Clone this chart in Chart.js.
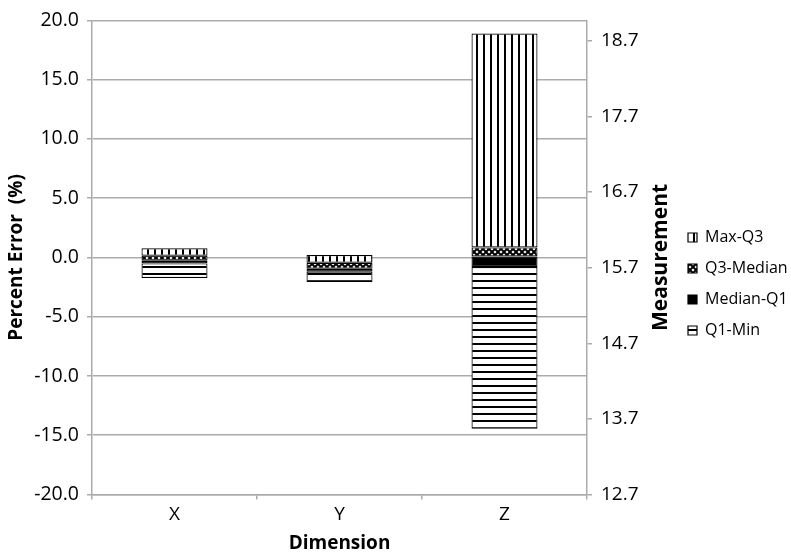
<!DOCTYPE html>
<html>
<head>
<meta charset="UTF-8">
<title>Percent Error by Dimension</title>
<script src="https://cdn.jsdelivr.net/npm/chart.js"></script>
<style>
  html, body { margin: 0; padding: 0; background: #fff; }
  #wrap { width: 791px; height: 555px; }
</style>
</head>
<body>
<div id="wrap"><canvas id="chart" width="791" height="555"></canvas></div>
<script>
  // values (percent error)
  const dimensions = ['X', 'Y', 'Z'];
  const maxVals    = [0.77, 0.20, 18.9];
  const q3Vals     = [0.15, -0.45, 0.85];
  const medianVals = [-0.28, -0.95, 0.08];
  const q1Vals     = [-0.50, -1.20, -0.80];
  const minVals    = [-1.73, -2.07, -14.45];
  const seriesNames = ['Max-Q3', 'Q3-Median', 'Median-Q1', 'Q1-Min'];
  const leftTicks  = [-20, -15, -10, -5, 0, 5, 10, 15, 20];
  const rightTicks = [12.7, 13.7, 14.7, 15.7, 16.7, 17.7, 18.7];

  function makePattern(kind) {
    const c = document.createElement('canvas');
    const g = c.getContext('2d');
    if (kind === 'vert') {
      c.width = 7; c.height = 7;
      g.fillStyle = '#fff'; g.fillRect(0, 0, 7, 7);
      g.fillStyle = '#000'; g.fillRect(0, 0, 2, 7);
    } else if (kind === 'horiz') {
      c.width = 7; c.height = 7;
      g.fillStyle = '#fff'; g.fillRect(0, 0, 7, 7);
      g.fillStyle = '#000'; g.fillRect(0, 0, 7, 2);
    } else {
      c.width = 6; c.height = 6;
      g.fillStyle = '#fff'; g.fillRect(0, 0, 6, 6);
      g.strokeStyle = '#000'; g.lineWidth = 2;
      g.beginPath();
      g.moveTo(0, 0); g.lineTo(6, 6);
      g.moveTo(6, 0); g.lineTo(0, 6);
      g.stroke();
    }
    return g.createPattern(c, 'repeat');
  }

  const fills = [makePattern('vert'), makePattern('cross'), '#000', makePattern('horiz')];
  const ranges = [
    [q3Vals, maxVals],
    [medianVals, q3Vals],
    [q1Vals, medianVals],
    [minVals, q1Vals]
  ];

  Chart.defaults.font.family = "'Open Sans', sans-serif";
  Chart.defaults.color = '#000';

  const gridGray = '#ababab';

  // right axis title reads bottom-to-top like the left one
  const rightTitle = {
    id: 'rightTitle',
    afterDraw(chart) {
      const { ctx, chartArea } = chart;
      ctx.save();
      ctx.translate(661, (chartArea.top + chartArea.bottom) / 2);
      ctx.rotate(-Math.PI / 2);
      ctx.font = "bold 21px 'Open Sans', sans-serif";
      ctx.fillStyle = '#000';
      ctx.textAlign = 'center';
      ctx.textBaseline = 'middle';
      ctx.fillText('Measurement', 0, 0);
      ctx.restore();
    }
  };

  new Chart(document.getElementById('chart'), {
    type: 'bar',
    data: {
      labels: dimensions,
      datasets: seriesNames.map((name, i) => ({
        label: name,
        data: dimensions.map((d, j) => [ranges[i][0][j], ranges[i][1][j]]),
        backgroundColor: fills[i],
        borderColor: '#000',
        borderWidth: 1.2,
        borderSkipped: false,
        barPercentage: 0.4,
        categoryPercentage: 1,
        yAxisID: 'y'
      }))
    },
    options: {
      responsive: false,
      animation: false,
      layout: { padding: { top: 13, left: 5, right: 0, bottom: 0 } },
      plugins: {
        tooltip: { enabled: false },
        legend: {
          position: 'right',
          align: 'center',
          maxWidth: 118,
          labels: { boxWidth: 9, boxHeight: 9, padding: 15, font: { size: 16 }, color: '#000' }
        }
      },
      scales: {
        x: {
          stacked: true,
          grid: { display: true, drawOnChartArea: false, offset: true, tickLength: 5, color: gridGray, lineWidth: 1.5 },
          border: { color: gridGray, width: 1.5 },
          ticks: { font: { size: 19 }, color: '#000', padding: 4 },
          title: { display: true, text: 'Dimension', font: { size: 19, weight: 'bold' }, color: '#000', padding: { top: 0, bottom: 0 } },
          afterFit: s => { s.height = 60.5; }
        },
        y: {
          position: 'left',
          min: -20,
          max: 20,
          afterBuildTicks: s => { s.ticks = leftTicks.map(v => ({ value: v })); },
          ticks: { callback: v => Number(v).toFixed(1), font: { size: 19.5 }, color: '#000', padding: 8 },
          grid: { color: gridGray, lineWidth: 1.5, tickLength: 5 },
          border: { color: gridGray, width: 1.5 },
          title: { display: true, text: 'Percent Error  (%)', font: { size: 19, weight: 'bold' }, color: '#000', padding: { top: 0, bottom: 0 } },
          afterFit: s => { s.width = 87; }
        },
        y2: {
          position: 'right',
          min: 12.7,
          max: 18.97,
          afterBuildTicks: s => { s.ticks = rightTicks.map(v => ({ value: v })); },
          ticks: { callback: v => Number(v).toFixed(1), font: { size: 19 }, color: '#000', padding: 9 },
          grid: { drawOnChartArea: false, color: gridGray, lineWidth: 1.5, tickLength: 5 },
          border: { color: gridGray, width: 1.5 },
          afterFit: s => { s.width = s.chart.width - 587 - (s.chart.legend ? s.chart.legend.width : 0); }
        }
      }
    },
    plugins: [rightTitle]
  });
</script>
</body>
</html>
